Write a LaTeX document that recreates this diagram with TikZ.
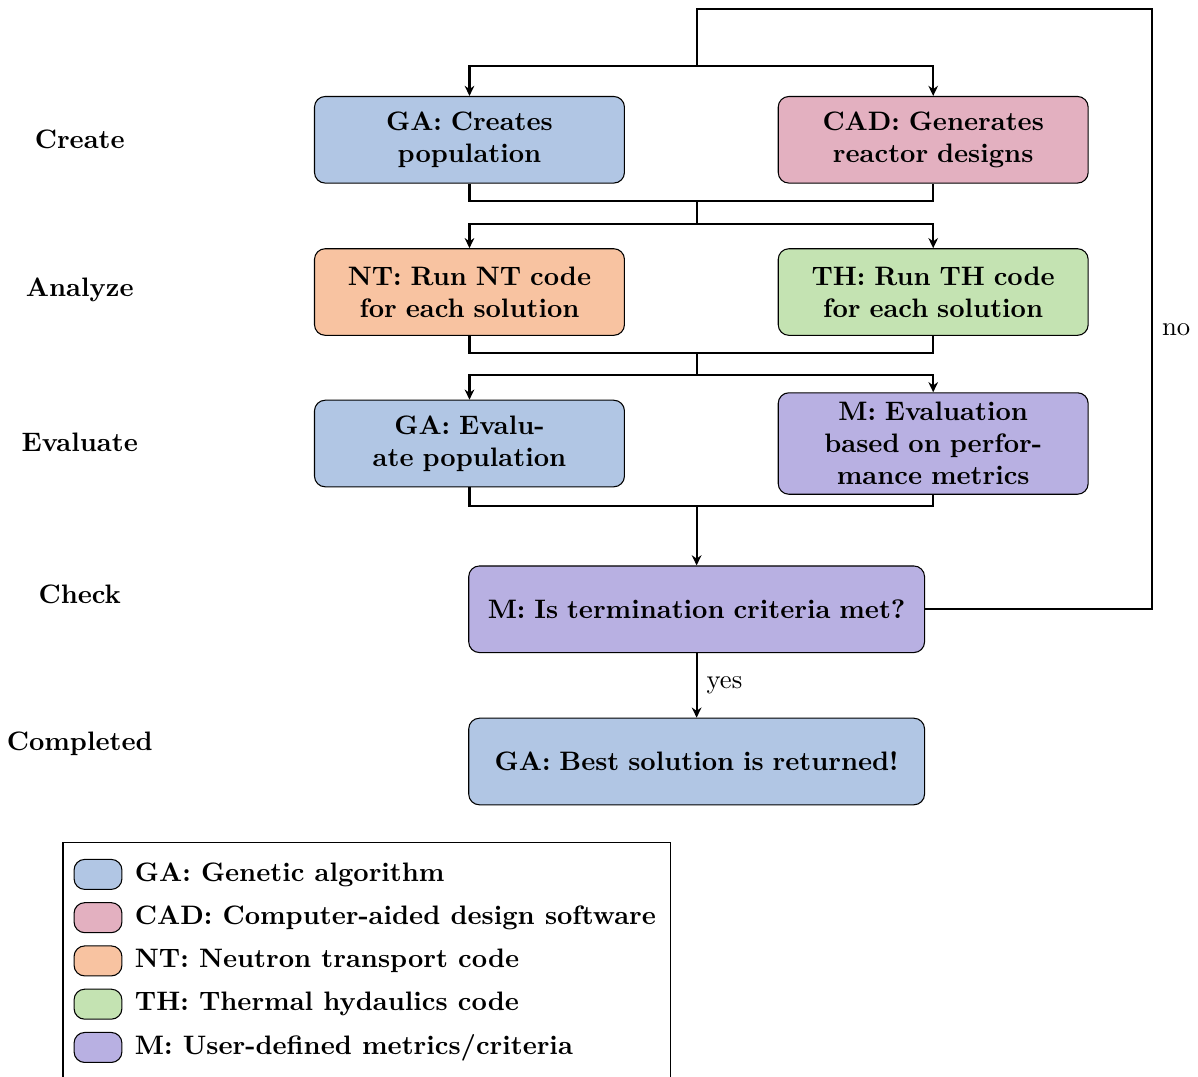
\documentclass[tikz,border=0pt]{standalone}
\usepackage{tikz}
\usetikzlibrary{calc,positioning,arrows.meta}
\definecolor{gacol}{RGB}{177,198,228}
\definecolor{cadcol}{RGB}{227,176,192}
\definecolor{ntcol}{RGB}{248,195,161}
\definecolor{thcol}{RGB}{196,227,178}
\definecolor{mcol}{RGB}{184,176,226}
\tikzset{
  link/.style={line width=0.8pt},
  arrow/.style={link, -{Stealth[length=3.8pt, width=3.6pt]}},
  box/.style={draw, rounded corners, align=center, font=\bfseries, inner sep=3.5pt},
  stepbox/.style={box, text width=3.5cm, minimum width=4.08cm, minimum height=1.14cm},
  widebox/.style={box, text width=5.6cm, minimum width=6cm, minimum height=1.14cm},
  stage/.style={font=\bfseries},
  swatch/.style={draw, rounded corners=4pt, minimum width=0.63cm, minimum height=0.395cm, inner sep=0pt}
}
\begin{document}
\begin{tikzpicture}[node distance=8.5mm and 20.1mm]
  \useasboundingbox (0,0) rectangle (15.77,-14.17);

  % stages
  \node[stage] (s1) at (1.05,-1.84) {Create};
  \node[stage] (s2) at (1.05,-3.82) {Analyze};
  \node[stage] (s3) at (1.05,-5.82) {Evaluate};
  \node[stage] (s4) at (1.05,-7.82) {Check};
  \node[stage] (s5) at (1.05,-9.79) {Completed};

  % blocks
  \node[stepbox, fill=gacol] (create) at (6.18,-1.84) {GA: Creates population};
  \node[stepbox, fill=cadcol, right=of create] (cad) {CAD: Generates reactor designs};
  \node[stepbox, fill=ntcol, below=of create] (nt) {NT: Run NT code for each solution};
  \node[stepbox, fill=thcol, below=of cad] (th) {TH: Run TH code for each solution};
  \node[stepbox, fill=gacol, below=8.4mm of nt] (evalga) {GA: Evalu-\\ate population};
  \node[stepbox, fill=mcol, right=of evalga] (evalm) {M: Evaluation based on performance metrics};
  \node[widebox, fill=mcol] (check) at (9.17,-8.02) {M: Is termination criteria met?};
  \node[widebox, fill=gacol, below=of check] (done) {GA: Best solution is returned!};

  % junctions
  \coordinate (top) at (15.165,-0.118);
  \coordinate (j0) at (9.17,-0.869);
  \coordinate (j1) at (9.17,-2.646);
  \coordinate (k1) at (9.17,-2.949);
  \coordinate (j2) at (9.17,-4.647);
  \coordinate (k2) at (9.17,-4.937);
  \coordinate (j3) at (9.17,-6.661);

  \draw[link] (check.east) -| node[pos=0.733, right] {no} (top) -| (j0);
  \draw[arrow] (j0) -| (create.north);
  \draw[arrow] (j0) -| (cad.north);

  \draw[link] (create.south) |- (j1) -| (cad.south);
  \draw[link] (j1) -- (k1);
  \draw[arrow] (k1) -| (nt.north);
  \draw[arrow] (k1) -| (th.north);

  \draw[link] (nt.south) |- (j2) -| (th.south);
  \draw[link] (j2) -- (k2);
  \draw[arrow] (k2) -| (evalga.north);
  \draw[arrow] (k2) -| (evalm.north);

  \draw[link] (evalga.south) |- (j3) -| (evalm.south);
  \draw[arrow] (j3) -- (check.north);
  \draw[arrow] (check) -- node[right] {yes} (done);

  % legend
  \draw (0.829,-14.4) |- (8.82,-11.084) -- (8.82,-14.4);
  \foreach \col/\txt [count=\i] in {gacol/{GA: Genetic algorithm},
      cadcol/{CAD: Computer-aided design software},
      ntcol/{NT: Neutron transport code},
      thcol/{TH: Thermal hydaulics code},
      mcol/{M: User-defined metrics/criteria}} {
    \node[swatch, fill=\col] (key\i) at (1.29,{-11.51-0.5695*(\i-1)}) {};
    \node[stage, right=0.4mm of key\i] (keytxt\i) {\txt};
  }
\end{tikzpicture}
\end{document}
